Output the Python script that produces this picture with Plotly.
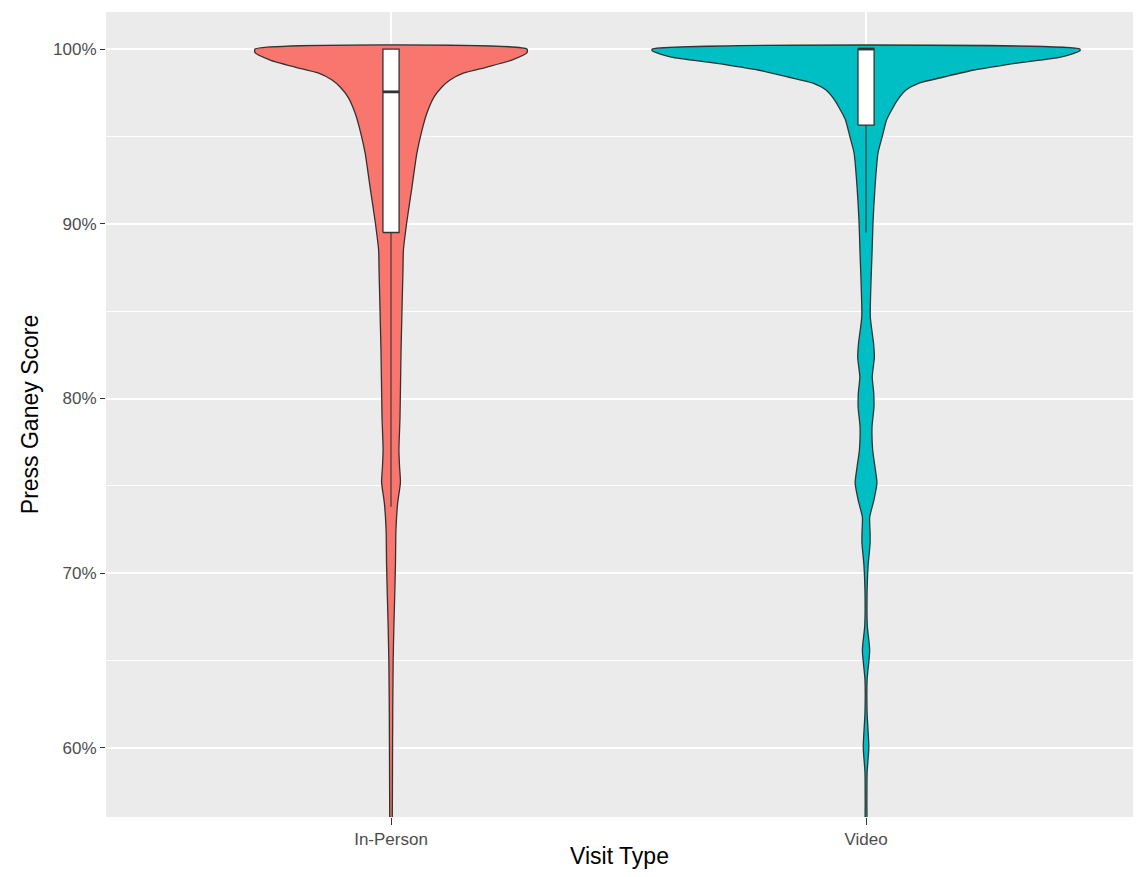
import plotly.graph_objects as go

# ---------------- data ----------------
categories = ["In-Person", "Video"]

# violin outline: score levels (%) and relative density (Video max = 1)
inperson_score = [100, 99.79, 99.37, 98.97, 98.63, 98.23, 97.83, 97.25, 96.34, 95.36,
                  94.05, 92.1, 90.2, 88.5, 87.35, 82.8, 78.9, 77.05, 76.1, 75.2, 74.0,
                  72.47, 70.6, 68.6, 66.75, 64.9, 62.0, 59.1, 56.05, 55.0]
inperson_density = [0.636, 0.636, 0.565, 0.449, 0.341, 0.276, 0.238, 0.201, 0.168, 0.145,
                    0.121, 0.098, 0.075, 0.058, 0.056, 0.047, 0.042, 0.037, 0.040, 0.044, 0.031,
                    0.023, 0.021, 0.017, 0.013, 0.010, 0.008, 0.007, 0.006, 0.005]

video_score = [100, 99.89, 99.54, 99.2, 98.8, 98.4, 98.05, 97.65, 97.08, 96.34, 95.94,
               94.96, 94.05, 92.1, 90.2, 88.3, 86.6, 84.66, 83.18, 82.37, 81.23, 80.31,
               79.5, 78.37, 77.05, 76.08, 75.16, 74.2, 73.2, 72.3, 71.7, 70.5, 69, 67,
               65.6, 63.9, 62, 60.06, 58.6, 57, 55.0]
video_density = [1.0, 1.0, 0.911, 0.706, 0.505, 0.364, 0.248, 0.187, 0.147, 0.112, 0.096,
                 0.075, 0.056, 0.042, 0.033, 0.028, 0.023, 0.020, 0.035, 0.039, 0.029, 0.036,
                 0.037, 0.028, 0.031, 0.042, 0.051, 0.037, 0.017, 0.019, 0.019, 0.010, 0.005, 0.006,
                 0.017, 0.005, 0.005, 0.013, 0.005, 0.004, 0.002]

# box plot statistics (%)
box_q1 = [89.5, 95.65]
box_median = [97.55, 100.0]
box_q3 = [100.0, 100.0]
whisker_low = [73.8, 89.5]
whisker_high = [100.0, 100.0]

y_ticks = [60, 70, 80, 90, 100]
y_ticklabels = ["60%", "70%", "80%", "90%", "100%"]

# ---------------- styling ----------------
fills = ["#F8766D", "#00BFC4"]
outline = "#333333"
max_half = 0.45
box_half = 0.017

fig = go.Figure()

profiles = [(inperson_score, inperson_density), (video_score, video_density)]
for i, (cat, (sc, dens)) in enumerate(zip(categories, profiles)):
    c = i + 1
    right_x = [c + d * max_half for d in dens]
    left_x = [c - d * max_half for d in dens]
    xs = right_x + left_x[::-1] + [right_x[0]]
    ys = list(sc) + list(sc)[::-1] + [sc[0]]
    fig.add_trace(go.Scatter(
        x=xs, y=ys, mode="lines", fill="toself", fillcolor=fills[i],
        line=dict(color=outline, width=1.3, shape="spline", smoothing=0.6),
        hoverinfo="skip", showlegend=False, name=cat))
    # whiskers
    fig.add_trace(go.Scatter(
        x=[c, c], y=[whisker_low[i], box_q1[i]], mode="lines",
        line=dict(color=outline, width=1.1), hoverinfo="skip", showlegend=False))
    fig.add_trace(go.Scatter(
        x=[c, c], y=[box_q3[i], whisker_high[i]], mode="lines",
        line=dict(color=outline, width=1.1), hoverinfo="skip", showlegend=False))
    # box
    fig.add_trace(go.Scatter(
        x=[c - box_half, c + box_half, c + box_half, c - box_half, c - box_half],
        y=[box_q1[i], box_q1[i], box_q3[i], box_q3[i], box_q1[i]],
        mode="lines", fill="toself", fillcolor="white",
        line=dict(color=outline, width=1.3), hoverinfo="skip", showlegend=False))
    # median
    fig.add_trace(go.Scatter(
        x=[c - box_half, c + box_half], y=[box_median[i], box_median[i]],
        mode="lines", line=dict(color=outline, width=2.8),
        hoverinfo="skip", showlegend=False))

fig.update_layout(
    width=1125, height=861,
    margin=dict(l=98, r=0, t=4, b=52),
    paper_bgcolor="white", plot_bgcolor="#EBEBEB",
    font=dict(family="Liberation Sans, Arial, sans-serif", color="#4D4D4D", size=17),
    showlegend=False,
)
fig.update_xaxes(
    range=[0.4, 2.562], tickmode="array", tickvals=[1, 2], ticktext=categories,
    showgrid=True, gridcolor="white", gridwidth=1.6, zeroline=False, automargin=False,
    ticks="outside", ticklen=7, tickcolor=outline, tickwidth=1,
    tickfont=dict(size=17, color="#4D4D4D"),
    title=dict(text="Visit Type", font=dict(size=23, color="black"), standoff=12),
)
fig.update_yaxes(
    range=[56.05, 102.12], tickmode="array", tickvals=y_ticks, ticktext=y_ticklabels,
    showgrid=True, gridcolor="white", gridwidth=1.6, zeroline=False, automargin=False,
    ticks="outside", ticklen=5, tickcolor=outline, tickwidth=1,
    tickfont=dict(size=17, color="#4D4D4D"),
    minor=dict(tickmode="linear", tick0=55, dtick=5, showgrid=True, gridcolor="white", gridwidth=0.8, ticks=""),
    title=dict(text="Press Ganey Score", font=dict(size=23, color="black"), standoff=8),
)

fig.write_html("out.html")
